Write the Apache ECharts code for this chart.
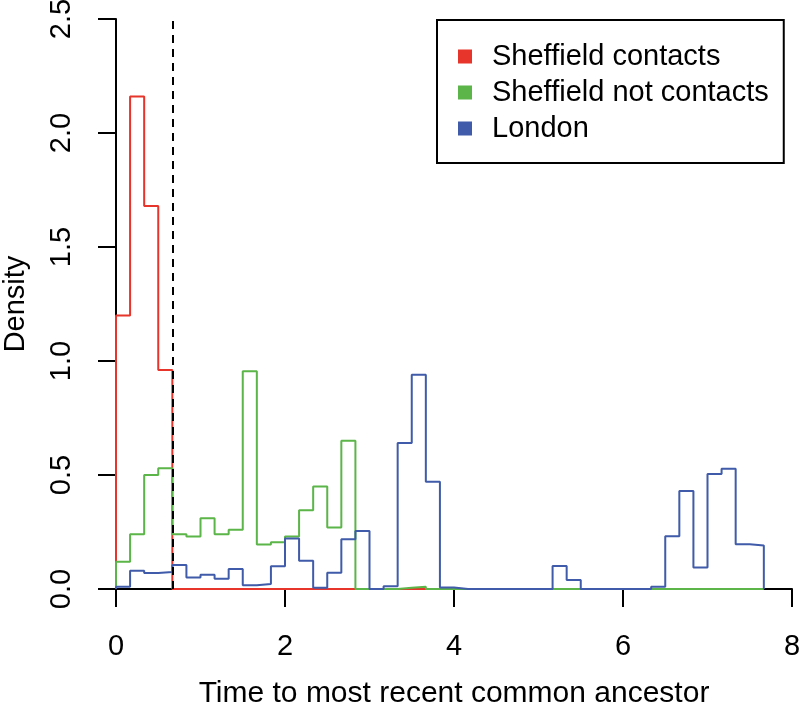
<!DOCTYPE html>
<html>
<head>
<meta charset="utf-8">
<script src="https://cdn.jsdelivr.net/npm/echarts@6/dist/echarts.min.js"></script>
<style>html,body{margin:0;padding:0;background:#fff}#c{width:800px;height:707px}</style>
</head>
<body>
<div id="c"></div>
<script>
// Histogram bins: width 1/6, starting at 0 (densities)
var binStart = 0;
var binWidth = 1 / 6;
var seriesNames = ['Sheffield contacts', 'Sheffield not contacts', 'London'];
var sheffieldContacts = [1.2, 2.16, 1.68, 0.96, 0, 0, 0, 0, 0, 0, 0, 0, 0, 0, 0, 0, 0, 0, 0, 0, 0, 0];
var sheffieldNotContacts = [0.12, 0.24, 0.50, 0.53, 0.24, 0.23, 0.31, 0.24, 0.26, 0.955, 0.195, 0.205, 0.23, 0.345, 0.45, 0.27, 0.65, 0, 0, 0, 0.006, 0.01, 0, 0, 0, 0, 0, 0, 0, 0, 0, 0, 0, 0, 0, 0, 0, 0, 0, 0, 0, 0, 0, 0, 0, 0];
var london = [0.01, 0.08, 0.07, 0.075, 0.105, 0.05, 0.063, 0.045, 0.088, 0.016, 0.022, 0.10, 0.222, 0.124, 0.005, 0.071, 0.218, 0.254, 0, 0.012, 0.64, 0.94, 0.47, 0.007, 0, 0, 0, 0, 0, 0, 0, 0.101, 0.04, 0, 0, 0, 0, 0, 0.01, 0.231, 0.43, 0.094, 0.504, 0.527, 0.196, 0.191];
var cutoff = 2 / 3;
var xTicks = [0, 2, 4, 6, 8];
var yTicks = [0, 0.5, 1.0, 1.5, 2.0, 2.5];
var colors = ['#E8352B', '#5BB548', '#3F5BA9'];

function stepPoints(vals) {
  var pts = [[binStart, 0]];
  for (var i = 0; i < vals.length; i++) {
    var x0 = binStart + i * binWidth, x1 = binStart + (i + 1) * binWidth;
    pts.push([x0, vals[i]]);
    pts.push([x1, vals[i]]);
  }
  pts.push([binStart + vals.length * binWidth, 0]);
  return pts;
}

var chart = echarts.init(document.getElementById('c'), null, {renderer: 'canvas'});
var font = 'Liberation Sans, Arial, Helvetica, sans-serif';
var allData = [sheffieldContacts, sheffieldNotContacts, london];
var series = allData.map(function (d, i) {
  return {
    name: seriesNames[i], type: 'line', data: stepPoints(d), showSymbol: false, symbol: 'none',
    z: 2 + i, lineStyle: {color: colors[i], width: 2}, itemStyle: {color: colors[i]}, animation: false
  };
});
series.push({
  type: 'line', data: [], z: 10, silent: true,
  markLine: {
    silent: true, symbol: ['none', 'none'], label: {show: false}, animation: false,
    lineStyle: {color: '#000', type: [8, 6], width: 2},
    data: [{xAxis: cutoff}]
  }
});

chart.setOption({
  animation: false,
  backgroundColor: '#fff',
  textStyle: {fontFamily: font},
  grid: {left: 116, right: 8, top: 19, bottom: 118, containLabel: false, outerBoundsMode: 'none'},
  xAxis: {
    type: 'value', min: xTicks[0], max: xTicks[xTicks.length - 1], interval: 2,
    name: 'Time to most recent common ancestor', nameLocation: 'middle', nameGap: 90,
    nameTextStyle: {fontSize: 30, color: '#000', fontFamily: font},
    axisLine: {show: true, onZero: false, lineStyle: {color: '#000', width: 2}},
    axisTick: {show: true, length: 18, lineStyle: {color: '#000', width: 2}},
    axisLabel: {fontSize: 29, color: '#000', margin: 43, fontFamily: font},
    splitLine: {show: false}
  },
  yAxis: {
    type: 'value', min: yTicks[0], max: yTicks[yTicks.length - 1], interval: 0.5,
    name: 'Density', nameLocation: 'middle', nameGap: 86, nameRotate: 90,
    nameTextStyle: {fontSize: 29, color: '#000', fontFamily: font},
    axisLine: {show: true, lineStyle: {color: '#000', width: 2}},
    axisTick: {show: true, length: 18, lineStyle: {color: '#000', width: 2}},
    axisLabel: {fontSize: 29, color: '#000', rotate: 90, margin: 40, fontFamily: font,
      formatter: function (v) { return v.toFixed(1); }},
    splitLine: {show: false}
  },
  legend: {
    orient: 'vertical', left: 437, top: 20,
    data: seriesNames.map(function (n, i) { return {name: n, icon: 'rect', itemStyle: {color: colors[i]}}; }),
    itemWidth: 14, itemHeight: 14, itemGap: 7,
    padding: [22, 15, 20, 21],
    borderColor: '#000', borderWidth: 2, borderRadius: 0,
    textStyle: {fontSize: 29, color: '#000', lineHeight: 29, padding: [0, 0, 0, 15], fontFamily: font},
    selectedMode: false
  },
  series: series
});
</script>
</body>
</html>
